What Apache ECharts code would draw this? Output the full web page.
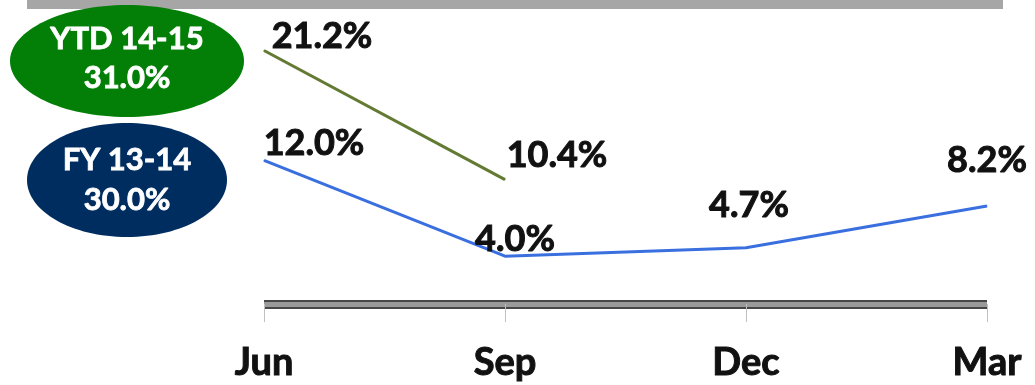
<!DOCTYPE html>
<html>
<head>
<meta charset="utf-8">
<script src="https://cdn.jsdelivr.net/npm/echarts@6/dist/echarts.min.js"></script>
<style>
  html, body { margin: 0; padding: 0; background: #fff; }
  #chart { width: 1035px; height: 385px; }
</style>
</head>
<body>
<div id="chart"></div>
<script>
// quarters on the x axis
var months = ['Jun', 'Sep', 'Dec', 'Mar'];
// growth, %
var ytd1415 = [21.2, 10.4, null, null];
var fy1314 = [12.0, 4.0, 4.7, 8.2];
// legend bubbles
var ytdTitle = ['YTD 14-15', '31.0%'];
var fyTitle = ['FY 13-14', '30.0%'];

// where each value label sits relative to its point (px)
var ytdLabelOffset = [[58, -14], [52, -24]];
var fyLabelOffset = [[50, -17], [10, -17], [3, -42], [0, -46]];

var font = 'Lato, "Open Sans", sans-serif';

function withLabels(values, offsets) {
  return values.map(function (v, i) {
    if (v == null) return null;
    return {
      value: v,
      label: { offset: offsets[i] }
    };
  });
}

var labelStyle = {
  show: true,
  position: 'inside',
  fontFamily: font,
  fontWeight: 'bold',
  fontSize: 36,
  color: '#111',
  textBorderColor: '#111',
  textBorderWidth: 1,
  formatter: function (p) { return p.value.toFixed(1) + '%'; }
};

function bubble(cx, cy, rx, ry, color, lines, dy1, dy2) {
  var txt = { fill: '#fff', font: 'bold 31px ' + font, align: 'center', verticalAlign: 'middle', stroke: '#fff', lineWidth: 0.8 };
  return {
    type: 'group',
    children: [
      { type: 'ellipse', shape: { cx: cx, cy: cy, rx: rx, ry: ry }, style: { fill: color } },
      { type: 'text', x: cx, y: cy + dy1, style: Object.assign({ text: lines[0] }, txt) },
      { type: 'text', x: cx, y: cy + dy2, style: Object.assign({ text: lines[1] }, txt) }
    ]
  };
}

var myChart = echarts.init(document.getElementById('chart'));
myChart.setOption({
  animation: false,
  grid: { left: 264, right: 48, top: 5, bottom: 81 },
  xAxis: [{
    type: 'category',
    position: 'bottom',
    data: months,
    boundaryGap: false,
    axisLine: { lineStyle: { color: '#474747', width: 9, cap: 'butt' } },
    axisTick: { show: true, length: 18, lineStyle: { color: '#c0c0c0', width: 1 } },
    axisLabel: { margin: 40, fontFamily: font, fontWeight: 'bold', fontSize: 38, color: '#111', textBorderColor: '#111', textBorderWidth: 1 },
    splitLine: { show: false }
  }, {
    type: 'category',
    position: 'bottom',
    data: months,
    boundaryGap: false,
    axisLine: { lineStyle: { color: '#9a9a9a', width: 5, cap: 'butt' } },
    axisTick: { show: false },
    axisLabel: { show: false },
    splitLine: { show: false }
  }],
  yAxis: { type: 'value', min: 0, max: 25, show: false, splitLine: { show: false } },
  graphic: [
    { type: 'rect', shape: { x: 27, y: 0, width: 976, height: 9 }, style: { fill: '#a6a6a6' } },
    bubble(127, 61, 117, 56, '#037f07', ytdTitle, -22, 17),
    bubble(127, 180, 100, 57, '#002d5f', fyTitle, -20, 20)
  ],
  series: [{
    name: 'YTD 14-15',
    type: 'line',
    data: withLabels(ytd1415, ytdLabelOffset),
    symbol: 'circle',
    symbolSize: 1,
    lineStyle: { color: '#627a32', width: 3 },
    itemStyle: { color: '#627a32' },
    label: labelStyle
  }, {
    name: 'FY 13-14',
    type: 'line',
    data: withLabels(fy1314, fyLabelOffset),
    symbol: 'circle',
    symbolSize: 1,
    lineStyle: { color: '#3a6fe0', width: 3 },
    itemStyle: { color: '#3a6fe0' },
    label: labelStyle
  }]
});
</script>
</body>
</html>
